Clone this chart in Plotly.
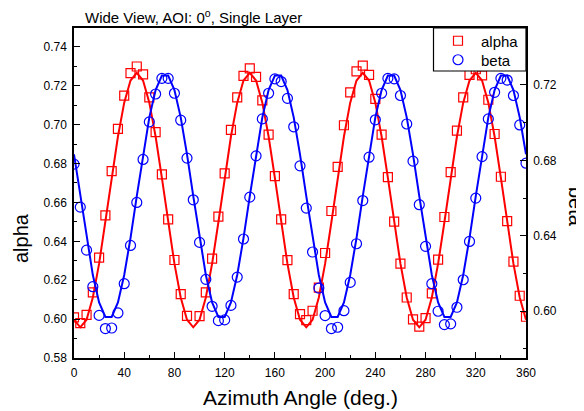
import plotly.graph_objects as go

# ---- data ----
angles = [0, 5, 10, 15, 20, 25, 30, 35, 40, 45, 50, 55, 60, 65, 70, 75, 80, 85,
          90, 95, 100, 105, 110, 115, 120, 125, 130, 135, 140, 145, 150, 155, 160, 165, 170, 175,
          180, 185, 190, 195, 200, 205, 210, 215, 220, 225, 230, 235, 240, 245, 250, 255, 260, 265,
          270, 275, 280, 285, 290, 295, 300, 305, 310, 315, 320, 325, 330, 335, 340, 345, 350, 355,
          360]

alpha_data = [0.6009, 0.5979, 0.6022, 0.6137, 0.6316, 0.6533, 0.6761, 0.6978, 0.7149, 0.7265,
              0.7299, 0.7259, 0.7140, 0.6962, 0.6744, 0.6513, 0.6304, 0.6128,
              0.6017, None, 0.6015, 0.6137, 0.6311, 0.6527, 0.6749, 0.6973, 0.7140, 0.7251,
              0.7289, 0.7246, 0.7125, 0.6949, 0.6735, 0.6513, 0.6303, 0.6128,
              0.6026, 0.5995, 0.6043, 0.6162, 0.6340, 0.6556, 0.6783, 0.6997, 0.7166, 0.7274,
              0.7304, 0.7256, 0.7133, 0.6949, 0.6730, 0.6501, 0.6285, 0.6111,
              0.5999, 0.5961, 0.6005, 0.6132, 0.6306, 0.6525, 0.6756, 0.6969, 0.7140, 0.7256,
              0.7285, 0.7253, 0.7128, 0.6952, 0.6732, 0.6504, 0.6296, 0.6120,
              0.6012]

beta_data = [0.6780, 0.6552, 0.6324, 0.6130, 0.5978, 0.5908, 0.5911, 0.5991, 0.6146, 0.6349,
             0.6577, 0.6805, 0.7004, 0.7152, 0.7235, 0.7235, 0.7156, 0.7013,
             0.6812, 0.6591, 0.6365, 0.6169, 0.6026, 0.5950, 0.5954, 0.6031, 0.6181, 0.6383,
             0.6605, 0.6824, 0.7020, 0.7156, 0.7232, 0.7218, 0.7129, 0.6978,
             0.6771, 0.6547, 0.6314, 0.6123, 0.5977, 0.5908, 0.5915, 0.6003, 0.6153, 0.6358,
             0.6587, 0.6817, 0.7015, 0.7156, 0.7235, 0.7232, 0.7144, 0.6993,
             0.6796, 0.6565, 0.6344, 0.6146, 0.6000, 0.5929, 0.5933, 0.6021, 0.6167, 0.6370,
             0.6600, 0.6820, 0.7020, 0.7161, 0.7235, 0.7226, 0.7144, 0.6988,
             0.6785]

alpha_fit = [0.5997, 0.5958, 0.5997, 0.6111, 0.6285, 0.6498, 0.6726, 0.6939, 0.7113, 0.7227,
             0.7266, 0.7227, 0.7113, 0.6939, 0.6726, 0.6498, 0.6285, 0.6111,
             0.5997, 0.5958, 0.5997, 0.6111, 0.6285, 0.6498, 0.6726, 0.6939, 0.7113, 0.7227,
             0.7266, 0.7227, 0.7113, 0.6939, 0.6726, 0.6498, 0.6285, 0.6111,
             0.5997, 0.5958, 0.5997, 0.6111, 0.6285, 0.6498, 0.6726, 0.6939, 0.7113, 0.7227,
             0.7266, 0.7227, 0.7113, 0.6939, 0.6726, 0.6498, 0.6285, 0.6111,
             0.5997, 0.5958, 0.5997, 0.6111, 0.6285, 0.6498, 0.6726, 0.6939, 0.7113, 0.7227,
             0.7266, 0.7227, 0.7113, 0.6939, 0.6726, 0.6498, 0.6285, 0.6111,
             0.5997]

beta_fit = [0.6832, 0.6610, 0.6388, 0.6192, 0.6047, 0.5970, 0.5970, 0.6047, 0.6192, 0.6388,
            0.6610, 0.6832, 0.7028, 0.7173, 0.7250, 0.7250, 0.7173, 0.7028,
            0.6832, 0.6610, 0.6388, 0.6192, 0.6047, 0.5970, 0.5970, 0.6047, 0.6192, 0.6388,
            0.6610, 0.6832, 0.7028, 0.7173, 0.7250, 0.7250, 0.7173, 0.7028,
            0.6832, 0.6610, 0.6388, 0.6192, 0.6047, 0.5970, 0.5970, 0.6047, 0.6192, 0.6388,
            0.6610, 0.6832, 0.7028, 0.7173, 0.7250, 0.7250, 0.7173, 0.7028,
            0.6832, 0.6610, 0.6388, 0.6192, 0.6047, 0.5970, 0.5970, 0.6047, 0.6192, 0.6388,
            0.6610, 0.6832, 0.7028, 0.7173, 0.7250, 0.7250, 0.7173, 0.7028,
            0.6832]

x_ticks = [0, 40, 80, 120, 160, 200, 240, 280, 320, 360]

RED = "#FF0000"
BLUE = "#0000FF"
FONT = "Arial, Liberation Sans, sans-serif"

# the page body adds an 8px offset; plot area target in window pixels: x 74..526, y 28..358
OFF = 8
PL, PR, PT, PB = 74, 526, 28, 358
PW, PH = PR - PL, PB - PT
W, H = 584, 411


def px_x(x):
    return (x - PL) / PW


def px_y(y):
    return (PB - y) / PH


fig = go.Figure()

fig.add_trace(go.Scatter(x=angles, y=alpha_fit, mode="lines", showlegend=False,
                         line=dict(color=RED, width=2), hoverinfo="skip"))
fig.add_trace(go.Scatter(x=angles, y=beta_fit, mode="lines", showlegend=False, yaxis="y2",
                         line=dict(color=BLUE, width=2), hoverinfo="skip"))
fig.add_trace(go.Scatter(x=angles, y=alpha_data, mode="markers", name="alpha", legend="legend",
                         marker=dict(symbol="square-open", size=9, color=RED,
                                     line=dict(width=1.2, color=RED))))
fig.add_trace(go.Scatter(x=angles, y=beta_data, mode="markers", name="beta", yaxis="y2",
                         legend="legend2",
                         marker=dict(symbol="circle-open", size=10, color=BLUE,
                                     line=dict(width=1.2, color=BLUE))))

axis_common = dict(showgrid=False, zeroline=False, showline=True, linecolor="black",
                   linewidth=1.5, ticks="inside", ticklen=6, tickwidth=1.2, tickcolor="black",
                   ticklabelstandoff=3, automargin=False,
                   tickfont=dict(family=FONT, size=12, color="black"))

legend_common = dict(xanchor="left", yanchor="middle", bgcolor="rgba(0,0,0,0)",
                     borderwidth=0, itemwidth=36,
                     font=dict(family=FONT, size=15, color="black"))

fig.update_layout(
    width=W, height=H,
    margin=dict(l=PL - OFF, r=W - (PL - OFF) - PW, t=PT - OFF, b=H - (PB - OFF)),
    paper_bgcolor="white", plot_bgcolor="white",
    font=dict(family=FONT, color="black"),
    xaxis=dict(range=[0, 360], tickvals=x_ticks, mirror=True,
               minor=dict(dtick=20, tick0=0, ticks="inside", ticklen=3, tickcolor="black"),
               **axis_common),
    yaxis=dict(range=[0.58, 0.7497], tick0=0.58, dtick=0.02, tickformat=".2f",
               minor=dict(dtick=0.01, ticks="inside", ticklen=3, tickcolor="black"),
               **axis_common),
    yaxis2=dict(range=[0.5752, 0.7502], overlaying="y", side="right", anchor="x",
                tick0=0.60, dtick=0.04, tickformat=".2f",
                minor=dict(dtick=0.02, ticks="inside", ticklen=3, tickcolor="black"),
                **axis_common),
    legend=dict(x=px_x(435), y=px_y(41), **legend_common),
    legend2=dict(x=px_x(435), y=px_y(60), **legend_common),
    shapes=[
        dict(type="rect", xref="paper", yref="paper", layer="above",
             x0=px_x(433.5), x1=px_x(526), y0=px_y(71), y1=px_y(28),
             fillcolor="white", line=dict(color="black", width=1.2)),
    ],
    annotations=[
        dict(text="Wide View, AOI: 0<sup>o</sup>, Single Layer", xref="paper", yref="paper",
             x=px_x(83), y=px_y(17), xanchor="left", yanchor="middle",
             showarrow=False, font=dict(family=FONT, size=15, color="black")),
        dict(text="Azimuth Angle (deg.)", xref="paper", yref="paper",
             x=0.5, y=px_y(398), xanchor="center", yanchor="middle",
             showarrow=False, font=dict(family=FONT, size=21, color="black")),
        dict(text="alpha", xref="paper", yref="paper", textangle=-90,
             x=px_x(21), y=px_y(238), xanchor="center", yanchor="middle",
             showarrow=False, font=dict(family=FONT, size=20, color="black")),
        dict(text="beta", xref="paper", yref="paper", textangle=90,
             x=px_x(576), y=px_y(207), xanchor="center", yanchor="middle",
             showarrow=False, font=dict(family=FONT, size=20, color="black")),
    ],
)

fig.write_html("out.html")
